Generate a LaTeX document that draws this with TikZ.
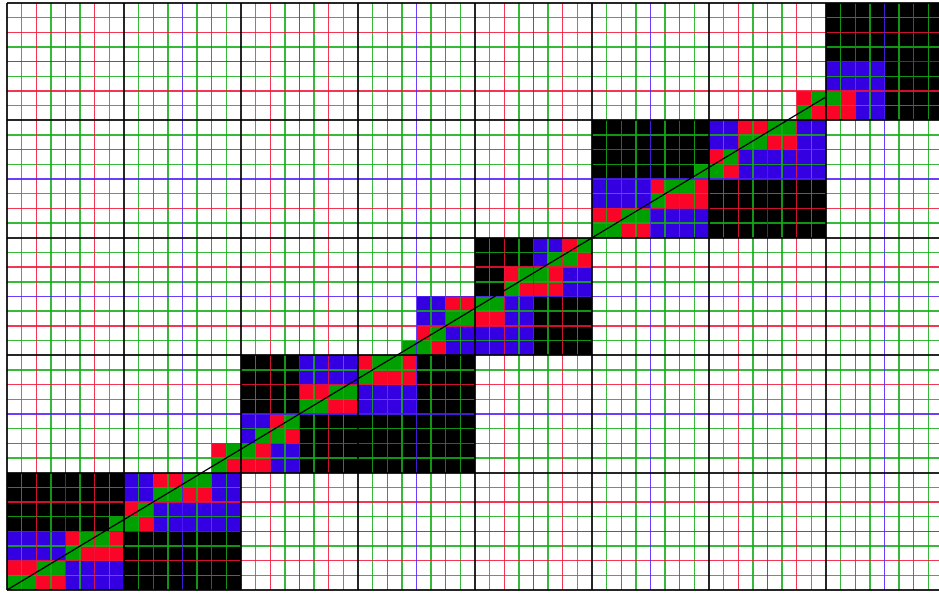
\documentclass[tikz,border=0pt]{standalone}
\definecolor{fillG}{RGB}{0,160,0}
\definecolor{fillR}{RGB}{250,5,40}
\definecolor{fillB}{RGB}{52,0,225}
\definecolor{lineG}{RGB}{20,175,20}
\definecolor{lineR}{RGB}{240,20,55}
\definecolor{lineB}{RGB}{80,30,250}
\tikzset{
  gridG/.style={draw=lineG,line width=1.4pt,draw opacity=0.85},
  gridR/.style={draw=lineR,line width=1.4pt,draw opacity=0.85},
  gridB/.style={draw=lineB,line width=1.4pt,draw opacity=0.85},
  gridK/.style={draw=black,line width=2pt,draw opacity=0.85},
  diagline/.style={draw=black,line width=1.2pt}
}
\begin{document}
\begin{tikzpicture}[x=14.625pt,y=14.675pt]
\useasboundingbox (-0.47863,-0.27257) rectangle (63.7265,40.2044);
\fill[white] (-0.47863,-0.27257) rectangle (63.7265,40.2044);
\clip (-0.47863,-0.27257) rectangle (63.7265,40.2044);
% black blocks
\foreach \a/\b/\c/\d in {8/0/16/4, 0/4/8/8, 20/8/32/12, 16/12/20/16, 28/12/32/16,
  36/16/40/20, 32/20/34/24, 34/22/36/24, 48/24/56/28, 40/28/48/32,
  60/32/64/36, 56/36/64/40}
  \fill[black] (\a,\b) rectangle (\c,\d);
% blue blocks
\foreach \a/\b/\c/\d in {4/0/8/2, 0/2/4/4, 8/4/16/8, 18/8/20/10, 16/10/18/12,
  24/12/28/14, 20/14/24/16, 30/16/36/18, 28/18/30/20, 34/18/36/20,
  38/20/40/22, 36/22/38/24, 44/24/48/26, 40/26/44/28, 50/28/56/30,
  48/30/50/32, 54/30/56/32, 58/32/60/34, 56/34/60/36}
  \fill[fillB] (\a,\b) rectangle (\c,\d);
% red blocks
\foreach \a/\b/\c/\d in {0/0/4/2, 4/2/8/4, 8/4/10/6, 10/6/14/8, 14/8/18/10,
  18/10/20/12, 20/12/24/14, 24/14/28/16, 28/16/30/18, 30/18/34/20,
  34/20/38/22, 38/22/40/24, 40/24/44/26, 44/26/48/28, 48/28/50/30,
  50/30/54/32, 54/32/58/34}
  \fill[fillR] (\a,\b) rectangle (\c,\d);
% diagonal cells
\foreach \c in {0,...,56}{
  \pgfmathtruncatemacro{\r}{(3*\c+0.5)/5}
  \fill[fillG] (\c,\r) rectangle ++(1,1);
}
% grid lines
\foreach \i in {1,3,...,63} \draw[gridG] (\i,0) -- (\i,40);
\foreach \j in {1,3,...,39} \draw[gridG] (0,\j) -- (64,\j);
\foreach \i in {2,6,...,62} \draw[gridR] (\i,0) -- (\i,40);
\foreach \j in {2,6,...,38} \draw[gridR] (0,\j) -- (64,\j);
\foreach \i in {4,12,...,60} \draw[gridB] (\i,0) -- (\i,40);
\foreach \j in {4,12,...,36} \draw[gridB] (0,\j) -- (64,\j);
\foreach \i in {0,8,...,64} \draw[gridK] (\i,0) -- (\i,40);
\foreach \j in {0,8,...,40} \draw[gridK] (0,\j) -- (64,\j);
% diagonal
\coordinate (d0) at (0,0);
\coordinate (d1) at (56,33.6);
\draw[diagline] (d0) -- (d1);
\end{tikzpicture}
\end{document}
